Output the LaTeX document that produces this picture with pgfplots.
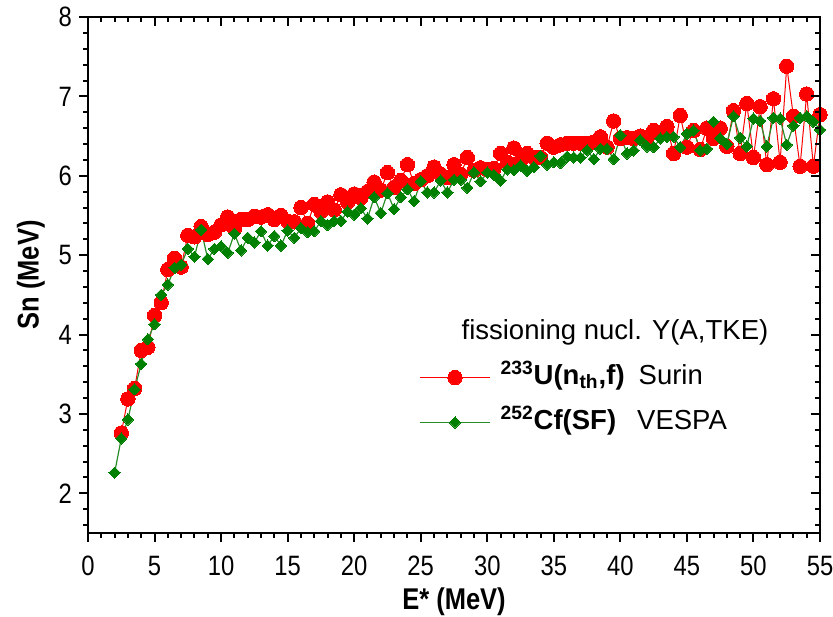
\documentclass[border=0pt]{standalone}
\usepackage{fontspec}
\setmainfont{Liberation Sans}
\newfontfamily\condfont{Liberation Sans}[FakeStretch=0.85]
\usepackage{pgfplots}
\pgfplotsset{compat=1.18}
\definecolor{dgreen}{RGB}{0,128,0}
\definecolor{lgreen}{RGB}{40,140,40}

\pgfplotstableread{
E S
2.5 2.76
3 3.19
3.5 3.32
4 3.80
4.5 3.84
5 4.24
5.5 4.40
6 4.82
6.5 4.96
7 4.85
7.5 5.25
8 5.23
8.5 5.36
9 5.26
9.5 5.29
10 5.38
10.5 5.48
11 5.34
11.5 5.45
12 5.45
12.5 5.49
13 5.48
13.5 5.51
14 5.45
14.5 5.50
15 5.43
15.5 5.42
16 5.60
16.5 5.40
17 5.64
17.5 5.55
18 5.67
18.5 5.57
19 5.76
19.5 5.67
20 5.77
20.5 5.72
21 5.80
21.5 5.92
22 5.82
22.5 6.04
23 5.85
23.5 5.94
24 6.14
24.5 5.90
25 5.95
25.5 6.00
26 6.11
26.5 6.02
27 5.98
27.5 6.14
28 6.02
28.5 6.23
29 6.07
29.5 6.10
30 6.08
30.5 6.09
31 6.28
31.5 6.17
32 6.35
32.5 6.19
33 6.28
33.5 6.23
34 6.23
34.5 6.41
35 6.36
35.5 6.39
36 6.41
36.5 6.41
37 6.41
37.5 6.41
38 6.42
38.5 6.49
39 6.36
39.5 6.69
40 6.47
40.5 6.48
41 6.47
41.5 6.50
42 6.47
42.5 6.57
43 6.55
43.5 6.62
44 6.28
44.5 6.76
45 6.36
45.5 6.57
46 6.33
46.5 6.60
47 6.47
47.5 6.60
48 6.37
48.5 6.82
49 6.28
49.5 6.91
50 6.23
50.5 6.87
51 6.14
51.5 6.97
52 6.17
52.5 7.38
53 6.75
53.5 6.12
54 7.03
54.5 6.12
55 6.77
}\surin

\pgfplotstableread{
E S
2 2.26
2.5 2.69
3 2.93
3.5 3.31
4 3.63
4.5 3.94
5 4.13
5.5 4.50
6 4.63
6.5 4.84
7 4.88
7.5 5.08
8 4.98
8.5 5.32
9 4.95
9.5 5.08
10 5.11
10.5 5.03
11 5.27
11.5 5.06
12 5.22
12.5 5.16
13 5.30
13.5 5.12
14 5.24
14.5 5.12
15 5.31
15.5 5.22
16 5.34
16.5 5.29
17 5.30
17.5 5.43
18 5.38
18.5 5.43
19 5.43
19.5 5.55
20 5.51
20.5 5.59
21 5.46
21.5 5.73
22 5.53
22.5 5.78
23 5.58
23.5 5.73
24 5.83
24.5 5.68
25 5.93
25.5 5.79
26 5.79
26.5 5.94
27 5.79
27.5 5.95
28 5.95
28.5 5.85
29 6.04
29.5 5.93
30 6.04
30.5 6.01
31 5.94
31.5 6.08
32 6.07
32.5 6.13
33 6.06
33.5 6.11
34 6.25
34.5 6.14
35 6.17
35.5 6.16
36 6.24
36.5 6.23
37 6.23
37.5 6.32
38 6.21
38.5 6.34
39 6.34
39.5 6.21
40 6.51
40.5 6.28
41 6.32
41.5 6.45
42 6.37
42.5 6.36
43 6.47
43.5 6.49
44 6.49
44.5 6.36
45 6.53
45.5 6.57
46 6.32
46.5 6.34
47 6.68
47.5 6.47
48 6.40
48.5 6.75
49 6.48
49.5 6.37
50 6.72
50.5 6.69
51 6.37
51.5 6.73
52 6.72
52.5 6.39
53 6.63
53.5 6.73
54 6.75
54.5 6.68
55 6.58
}\vespa

\begin{document}
\begin{tikzpicture}
\pgfplotsset{
  common/.style={
    scale only axis, width=366pt, height=258pt,
    xmin=0, xmax=55, ymin=1.5, ymax=8,
    xtick={0,5,...,55}, minor x tick num=4,
    ytick={2,3,4,5,6,7,8},
    minor ytick={1.6,1.8,2.2,2.4,2.6,2.8,3.2,3.4,3.6,3.8,4.2,4.4,4.6,4.8,5.2,5.4,5.6,5.8,6.2,6.4,6.6,6.8,7.2,7.4,7.6,7.8},
    axis line style={line width=1pt},
    major tick length=4.5pt, minor tick length=2.5pt,
    every tick/.style={line width=1pt, black},
    /pgf/number format/assume math mode=true,
    tick label style={font=\condfont\fontsize{14}{16}\selectfont},
  }
}
\begin{axis}[common, name=ax,
    tick align=outside, xtick pos=bottom, ytick pos=left,
    xticklabel style={yshift=-3.5pt},
    xlabel={\condfont\bfseries\fontsize{15}{18}\selectfont E* (MeV)},
    xlabel style={yshift=1pt},
    ylabel={\condfont\bfseries\fontsize{15}{18}\selectfont Sn (MeV)},
    legend image code/.code={\draw[mark repeat=2,mark phase=2] plot coordinates {(0pt,0pt) (17.5pt,0pt) (35pt,0pt)};},
    legend style={at={(0.444,0.43)}, anchor=north west, draw=none, fill=none,
      font=\fontsize{13.75}{16}\selectfont, row sep=5.5pt,
      cells={anchor=west},
      nodes={text height=10pt, text depth=3pt}},
  ]
\addlegendimage{empty legend}
\addlegendentry{\hspace*{-16.5pt}fissioning nucl. Y(A,TKE)}
\addplot[color=red, line width=0.5pt, mark=*, mark size=3.6pt,
  mark options={fill=red, draw=red, line width=0pt}] table[x=E,y=S] {\surin};
\addlegendentry{\hspace{3pt}\textbf{\textsuperscript{233}U(n\textsubscript{th},f)}\hspace{7pt}Surin}
\addplot[color=lgreen, line width=0.6pt, mark=square*, mark size=2pt,
  mark options={rotate=45, fill=dgreen, draw=dgreen, line width=0pt}] table[x=E,y=S] {\vespa};
\addlegendentry{\hspace{3pt}\textbf{\textsuperscript{252}Cf(SF)}\hspace{10.5pt}VESPA}
\end{axis}
\begin{axis}[common,
    tick align=inside, xtick pos=top, ytick pos=right,
    xticklabels={}, yticklabels={}]
\end{axis}
\pgfresetboundingbox
\path[use as bounding box] ([xshift=-44pt,yshift=-42pt]ax.south west) rectangle ([xshift=6.5pt,yshift=8.5pt]ax.north east);
\end{tikzpicture}
\end{document}
